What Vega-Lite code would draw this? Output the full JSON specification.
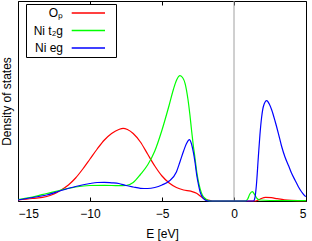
{
  "$schema": "https://vega.github.io/schema/vega-lite/v6.json",
  "width": 288,
  "height": 200,
  "autosize": "none",
  "padding": {"left": 18, "top": 1, "right": 6, "bottom": 40},
  "config": {
    "font": "Liberation Sans",
    "view": {"stroke": "#000000", "strokeWidth": 1},
    "axis": {"grid": false, "domain": false, "labelFontSize": 12, "labelColor": "#000000", "titleFontSize": 12, "titleFontWeight": "normal", "titleColor": "#000000", "tickColor": "#000000"}
  },
  "datasets": {
    "fermi": [{"E": 0}],
    "dos": [
      {"E": -15, "dos": 1, "s": "Oₚ"},
      {"E": -14, "dos": 2.5, "s": "Oₚ"},
      {"E": -13, "dos": 4.5, "s": "Oₚ"},
      {"E": -12.5, "dos": 7, "s": "Oₚ"},
      {"E": -12, "dos": 11, "s": "Oₚ"},
      {"E": -11.5, "dos": 16, "s": "Oₚ"},
      {"E": -11, "dos": 23, "s": "Oₚ"},
      {"E": -10.5, "dos": 32, "s": "Oₚ"},
      {"E": -10, "dos": 42, "s": "Oₚ"},
      {"E": -9.5, "dos": 52, "s": "Oₚ"},
      {"E": -9, "dos": 61, "s": "Oₚ"},
      {"E": -8.5, "dos": 67.5, "s": "Oₚ"},
      {"E": -8, "dos": 71.5, "s": "Oₚ"},
      {"E": -7.7, "dos": 72.7, "s": "Oₚ"},
      {"E": -7.4, "dos": 71.5, "s": "Oₚ"},
      {"E": -7, "dos": 67.5, "s": "Oₚ"},
      {"E": -6.5, "dos": 59, "s": "Oₚ"},
      {"E": -6, "dos": 47, "s": "Oₚ"},
      {"E": -5.5, "dos": 35, "s": "Oₚ"},
      {"E": -5, "dos": 25, "s": "Oₚ"},
      {"E": -4.5, "dos": 18, "s": "Oₚ"},
      {"E": -4, "dos": 13.5, "s": "Oₚ"},
      {"E": -3.5, "dos": 11, "s": "Oₚ"},
      {"E": -3, "dos": 9.8, "s": "Oₚ"},
      {"E": -2.6, "dos": 7.7, "s": "Oₚ"},
      {"E": -2.3, "dos": 4.5, "s": "Oₚ"},
      {"E": -2.1, "dos": 2.5, "s": "Oₚ"},
      {"E": -1.8, "dos": 0.8, "s": "Oₚ"},
      {"E": -1.5, "dos": 0, "s": "Oₚ"},
      {"E": 0, "dos": 0, "s": "Oₚ"},
      {"E": 1.5, "dos": 0, "s": "Oₚ"},
      {"E": 1.7, "dos": 1, "s": "Oₚ"},
      {"E": 1.9, "dos": 2.5, "s": "Oₚ"},
      {"E": 2.2, "dos": 3.7, "s": "Oₚ"},
      {"E": 2.6, "dos": 3.3, "s": "Oₚ"},
      {"E": 3, "dos": 2.3, "s": "Oₚ"},
      {"E": 3.5, "dos": 1.2, "s": "Oₚ"},
      {"E": 4, "dos": 0.7, "s": "Oₚ"},
      {"E": 5, "dos": 0.4, "s": "Oₚ"},
      {"E": -15, "dos": 1.5, "s": "Ni t₂g"},
      {"E": -14, "dos": 4, "s": "Ni t₂g"},
      {"E": -13, "dos": 7.5, "s": "Ni t₂g"},
      {"E": -12, "dos": 11, "s": "Ni t₂g"},
      {"E": -11, "dos": 14, "s": "Ni t₂g"},
      {"E": -10, "dos": 15.5, "s": "Ni t₂g"},
      {"E": -9, "dos": 15.7, "s": "Ni t₂g"},
      {"E": -8, "dos": 15.3, "s": "Ni t₂g"},
      {"E": -7.5, "dos": 15.5, "s": "Ni t₂g"},
      {"E": -7, "dos": 18.5, "s": "Ni t₂g"},
      {"E": -6.5, "dos": 26.5, "s": "Ni t₂g"},
      {"E": -6, "dos": 36, "s": "Ni t₂g"},
      {"E": -5.5, "dos": 50, "s": "Ni t₂g"},
      {"E": -5, "dos": 71, "s": "Ni t₂g"},
      {"E": -4.5, "dos": 96, "s": "Ni t₂g"},
      {"E": -4.2, "dos": 112, "s": "Ni t₂g"},
      {"E": -4, "dos": 120.5, "s": "Ni t₂g"},
      {"E": -3.75, "dos": 125.3, "s": "Ni t₂g"},
      {"E": -3.55, "dos": 123, "s": "Ni t₂g"},
      {"E": -3.4, "dos": 117.7, "s": "Ni t₂g"},
      {"E": -3.2, "dos": 102, "s": "Ni t₂g"},
      {"E": -3.06, "dos": 86, "s": "Ni t₂g"},
      {"E": -2.95, "dos": 71, "s": "Ni t₂g"},
      {"E": -2.83, "dos": 56, "s": "Ni t₂g"},
      {"E": -2.7, "dos": 42, "s": "Ni t₂g"},
      {"E": -2.59, "dos": 29.3, "s": "Ni t₂g"},
      {"E": -2.45, "dos": 18, "s": "Ni t₂g"},
      {"E": -2.36, "dos": 12.7, "s": "Ni t₂g"},
      {"E": -2.2, "dos": 6, "s": "Ni t₂g"},
      {"E": -2, "dos": 2.5, "s": "Ni t₂g"},
      {"E": -1.8, "dos": 0.5, "s": "Ni t₂g"},
      {"E": -1.6, "dos": 0, "s": "Ni t₂g"},
      {"E": 0.8, "dos": 0, "s": "Ni t₂g"},
      {"E": 0.95, "dos": 2, "s": "Ni t₂g"},
      {"E": 1.1, "dos": 7, "s": "Ni t₂g"},
      {"E": 1.27, "dos": 9.3, "s": "Ni t₂g"},
      {"E": 1.45, "dos": 6, "s": "Ni t₂g"},
      {"E": 1.6, "dos": 2.5, "s": "Ni t₂g"},
      {"E": 1.8, "dos": 1, "s": "Ni t₂g"},
      {"E": 2.5, "dos": 0.5, "s": "Ni t₂g"},
      {"E": 5, "dos": 0.3, "s": "Ni t₂g"},
      {"E": -15, "dos": 1, "s": "Ni eg"},
      {"E": -14, "dos": 3.5, "s": "Ni eg"},
      {"E": -13, "dos": 6, "s": "Ni eg"},
      {"E": -12, "dos": 10.5, "s": "Ni eg"},
      {"E": -11, "dos": 14.5, "s": "Ni eg"},
      {"E": -10, "dos": 17.5, "s": "Ni eg"},
      {"E": -9.5, "dos": 18.5, "s": "Ni eg"},
      {"E": -9, "dos": 18.7, "s": "Ni eg"},
      {"E": -8.5, "dos": 18.2, "s": "Ni eg"},
      {"E": -8, "dos": 17.5, "s": "Ni eg"},
      {"E": -7.5, "dos": 15.5, "s": "Ni eg"},
      {"E": -7, "dos": 14, "s": "Ni eg"},
      {"E": -6.5, "dos": 12.7, "s": "Ni eg"},
      {"E": -6, "dos": 12.5, "s": "Ni eg"},
      {"E": -5.5, "dos": 13.5, "s": "Ni eg"},
      {"E": -5, "dos": 16, "s": "Ni eg"},
      {"E": -4.5, "dos": 20, "s": "Ni eg"},
      {"E": -4, "dos": 29, "s": "Ni eg"},
      {"E": -3.75, "dos": 39.3, "s": "Ni eg"},
      {"E": -3.5, "dos": 50, "s": "Ni eg"},
      {"E": -3.29, "dos": 57.7, "s": "Ni eg"},
      {"E": -3.1, "dos": 61.3, "s": "Ni eg"},
      {"E": -2.95, "dos": 57, "s": "Ni eg"},
      {"E": -2.83, "dos": 49.3, "s": "Ni eg"},
      {"E": -2.7, "dos": 38, "s": "Ni eg"},
      {"E": -2.59, "dos": 26, "s": "Ni eg"},
      {"E": -2.45, "dos": 15, "s": "Ni eg"},
      {"E": -2.36, "dos": 9.3, "s": "Ni eg"},
      {"E": -2.2, "dos": 4, "s": "Ni eg"},
      {"E": -2, "dos": 1, "s": "Ni eg"},
      {"E": -1.8, "dos": 0, "s": "Ni eg"},
      {"E": 1.35, "dos": 0, "s": "Ni eg"},
      {"E": 1.45, "dos": 3, "s": "Ni eg"},
      {"E": 1.55, "dos": 15, "s": "Ni eg"},
      {"E": 1.69, "dos": 44, "s": "Ni eg"},
      {"E": 1.8, "dos": 66, "s": "Ni eg"},
      {"E": 1.92, "dos": 84, "s": "Ni eg"},
      {"E": 2.05, "dos": 95, "s": "Ni eg"},
      {"E": 2.27, "dos": 100.3, "s": "Ni eg"},
      {"E": 2.45, "dos": 97, "s": "Ni eg"},
      {"E": 2.62, "dos": 91, "s": "Ni eg"},
      {"E": 2.85, "dos": 80, "s": "Ni eg"},
      {"E": 3.08, "dos": 67.7, "s": "Ni eg"},
      {"E": 3.3, "dos": 55, "s": "Ni eg"},
      {"E": 3.54, "dos": 44, "s": "Ni eg"},
      {"E": 3.8, "dos": 35, "s": "Ni eg"},
      {"E": 4, "dos": 27.7, "s": "Ni eg"},
      {"E": 4.25, "dos": 20.5, "s": "Ni eg"},
      {"E": 4.47, "dos": 14.3, "s": "Ni eg"},
      {"E": 4.7, "dos": 9, "s": "Ni eg"},
      {"E": 4.93, "dos": 5, "s": "Ni eg"},
      {"E": 5, "dos": 4.5, "s": "Ni eg"}
    ]
  },
  "layer": [
    {
      "data": {"name": "fermi"},
      "mark": {"type": "rule", "color": "#a0a0a0", "strokeWidth": 1},
      "encoding": {
        "x": {"field": "E", "type": "quantitative", "scale": {"domain": [-15, 5], "nice": false},
          "axis": {"orient": "top", "labels": false, "title": null, "tickSize": -4, "values": [-15, -10, -5, 0, 5]}}
      }
    },
    {
      "data": {"name": "dos"},
      "mark": {"type": "line", "interpolate": "monotone", "strokeWidth": 1.2},
      "encoding": {
        "x": {"field": "E", "type": "quantitative", "scale": {"domain": [-15, 5], "nice": false},
          "axis": {"orient": "bottom", "title": "E [eV]", "tickSize": -4, "labelPadding": 11, "titlePadding": 9, "values": [-15, -10, -5, 0, 5]}},
        "y": {"field": "dos", "type": "quantitative", "scale": {"domain": [0, 200], "nice": false},
          "axis": {"title": "Density of states", "labels": false, "ticks": false, "titlePadding": 5}},
        "color": {"field": "s", "type": "nominal",
          "scale": {"domain": ["Oₚ", "Ni t₂g", "Ni eg"], "range": ["#ff0000", "#00ff00", "#0000ff"]},
          "legend": {"orient": "none", "legendX": 8, "legendY": 3, "title": null, "symbolType": "M-1.2,0M7.36,0H14.02M15,0", "symbolSize": 100, "symbolStrokeWidth": 1.5, "rowPadding": 5.6, "labelAlign": "right", "labelOffset": 22.1, "symbolOffset": 0, "padding": 2.9, "strokeColor": "#000000", "fillColor": "#ffffff", "labelFontSize": 12, "labelColor": "#000000"}}
      }
    }
  ]
}
